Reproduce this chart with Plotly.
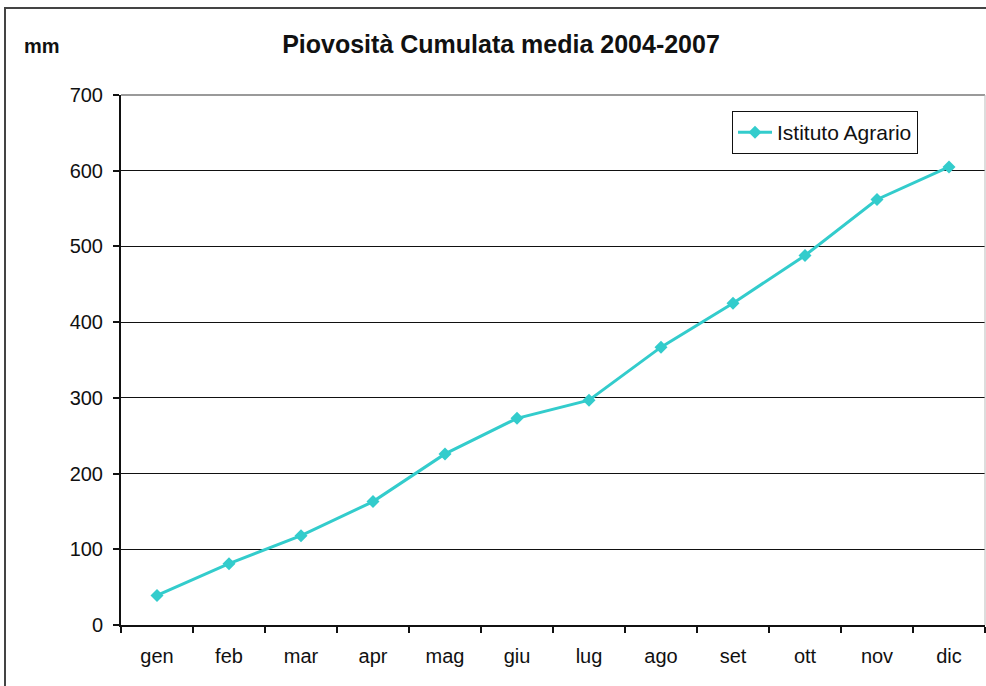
import plotly.graph_objects as go

mesi = ["gen", "feb", "mar", "apr", "mag", "giu", "lug", "ago", "set", "ott", "nov", "dic"]
pioggia_cumulata = [39, 81, 118, 163, 226, 273, 297, 367, 425, 488, 562, 605]
y_ticks = [0, 100, 200, 300, 400, 500, 600, 700]

FONT = "Liberation Sans, Arial, sans-serif"
TURCHESE = "#33CCCC"
NERO = "#111111"

# area del grafico in pixel: x 121..985, y 95..625
L, R, T, B = 121, 985, 95, 625
W, H = R - L, B - T


def px_x(x):
    return (x - L) / W


def px_y(y):
    return (B - y) / H


fig = go.Figure()
fig.add_trace(go.Scatter(
    x=mesi,
    y=pioggia_cumulata,
    mode="lines+markers",
    name="Istituto Agrario",
    line=dict(color=TURCHESE, width=3),
    marker=dict(symbol="diamond", size=10, color=TURCHESE),
))

fig.update_layout(
    width=986,
    height=686,
    margin=dict(l=L, r=986 - R, t=T, b=686 - B),
    paper_bgcolor="white",
    plot_bgcolor="white",
    font=dict(family=FONT, size=20, color=NERO),
    title=dict(
        text="<b>Piovosità Cumulata media 2004-2007</b>",
        x=px_x(501), xanchor="center", xref="paper",
        y=1 - 44 / 686, yanchor="middle",
        font=dict(family=FONT, size=25, color=NERO),
    ),
    showlegend=True,
    legend=dict(
        x=px_x(732), y=px_y(111), xanchor="left", yanchor="top",
        bgcolor="white", bordercolor=NERO, borderwidth=1,
        font=dict(family=FONT, size=21, color=NERO),
        itemwidth=34,
        tracegroupgap=0,
    ),
    xaxis=dict(
        type="category",
        showgrid=False,
        showline=True, linecolor=NERO, linewidth=2,
        ticks="outside", tickson="boundaries", ticklen=6, tickwidth=2, tickcolor=NERO,
        tickfont=dict(family=FONT, size=20, color=NERO),
        ticklabelstandoff=12,
        range=[-0.5, 11.5],
        zeroline=False,
    ),
    yaxis=dict(
        range=[0, 700],
        tickvals=y_ticks,
        showgrid=True, gridcolor=NERO, gridwidth=1,
        showline=True, linecolor=NERO, linewidth=2,
        ticks="outside", ticklen=6, tickwidth=2, tickcolor=NERO,
        tickfont=dict(family=FONT, size=20, color=NERO),
        ticklabelstandoff=6,
        zeroline=False,
    ),
    annotations=[
        dict(
            text="<b>mm</b>", xref="paper", yref="paper",
            x=px_x(22), y=px_y(46),
            xanchor="left", yanchor="middle", showarrow=False,
            font=dict(family=FONT, size=20, color=NERO),
        ),
    ],
    shapes=[
        # cornice esterna del grafico
        dict(
            type="rect", xref="paper", yref="paper",
            x0=px_x(5), x1=1.3,
            y0=-0.3, y1=px_y(8),
            line=dict(color="#444444", width=2),
            layer="below",
        ),
        # bordo superiore e destro dell'area del grafico
        dict(
            type="line", xref="paper", yref="paper",
            x0=0, x1=1, y0=1, y1=1,
            line=dict(color="#9a9a9a", width=2),
        ),
        dict(
            type="line", xref="paper", yref="paper",
            x0=1, x1=1, y0=0, y1=1,
            line=dict(color="#bbbbbb", width=1),
        ),
    ],
)

fig.write_html("out.html")
